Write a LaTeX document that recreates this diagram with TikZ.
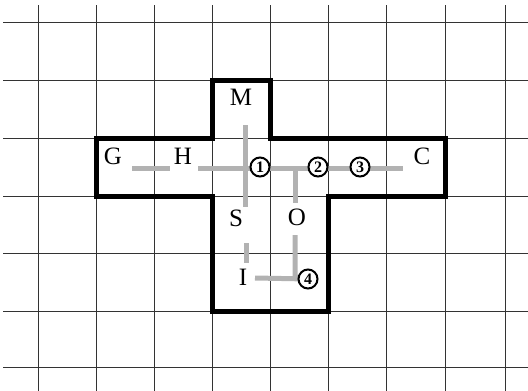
\documentclass[tikz,border=0pt]{standalone}
\usepackage{fontspec}
\setmainfont{Liberation Serif}
\begin{document}
\begin{tikzpicture}[x=1pt,y=-1pt,
  gridline/.style={line width=1pt,black!80},
  outline/.style={line width=5pt,black,line join=miter},
  route/.style={line width=5pt,black!30},
  lab/.style={font=\fontsize{25}{25}\selectfont,inner sep=0pt},
  num/.style={circle,draw=black,line width=2pt,fill=white,minimum size=19pt,inner sep=0pt,font=\fontsize{16}{16}\selectfont\bfseries}]
\useasboundingbox (0,0) rectangle (528,391);
% grid
\foreach \x in {38,96,154.5,212,270.5,328,386.5,445,505}
  \draw[gridline] (\x,5) -- (\x,391);
\foreach \y in {22,80,138,196,253,311,367}
  \draw[gridline] (3,\y) -- (528,\y);
% outline
\draw[outline] (212,80) -- (270.5,80) -- (270.5,138) -- (445,138) -- (445,196) -- (328,196)
  -- (328,311) -- (212,311) -- (212,196) -- (96,196) -- (96,138) -- (212,138) -- cycle;
% labels
\node[lab] (M) at (241,97) {M};
\node[lab] (G) at (113,156) {G};
\node[lab] (H) at (183,156) {H};
\node[lab] (C) at (422,156) {C};
\node[lab] (S) at (236,218) {S};
\node[lab] (O) at (297,217) {O};
\node[lab] (I) at (243,277) {I};
% route end points
\coordinate (g1) at (132,168);
\coordinate (g2) at (170,168);
\coordinate (h1) at (198,168);
\coordinate (c1) at (403,168);
\coordinate (v1) at (245,125);
\coordinate (v2) at (245,207);
\coordinate (j1) at (295,168);
\coordinate (o1) at (295,203);
\coordinate (o2) at (295,235);
\coordinate (k4) at (295,277);
\coordinate (i1) at (246,243);
\coordinate (i2) at (246,263);
\coordinate (i3) at (255,278);
\coordinate (p4) at (308,279);
% routes
\draw[route] (g1) -- (g2);
\draw[route] (h1) -- (c1);
\draw[route] (v1) -- (v2);
\draw[route] (j1) -- (o1);
\draw[route] (i1) -- (i2);
\draw[route] (o2) -- (k4) -- (p4);
\draw[route] (i3) -- (p4);
% numbered circles
\node[num] (n1) at (260,167) {1};
\node[num] (n2) at (318,167) {2};
\node[num] (n3) at (360,167) {3};
\node[num] (n4) at (p4) {4};
\end{tikzpicture}
\end{document}
